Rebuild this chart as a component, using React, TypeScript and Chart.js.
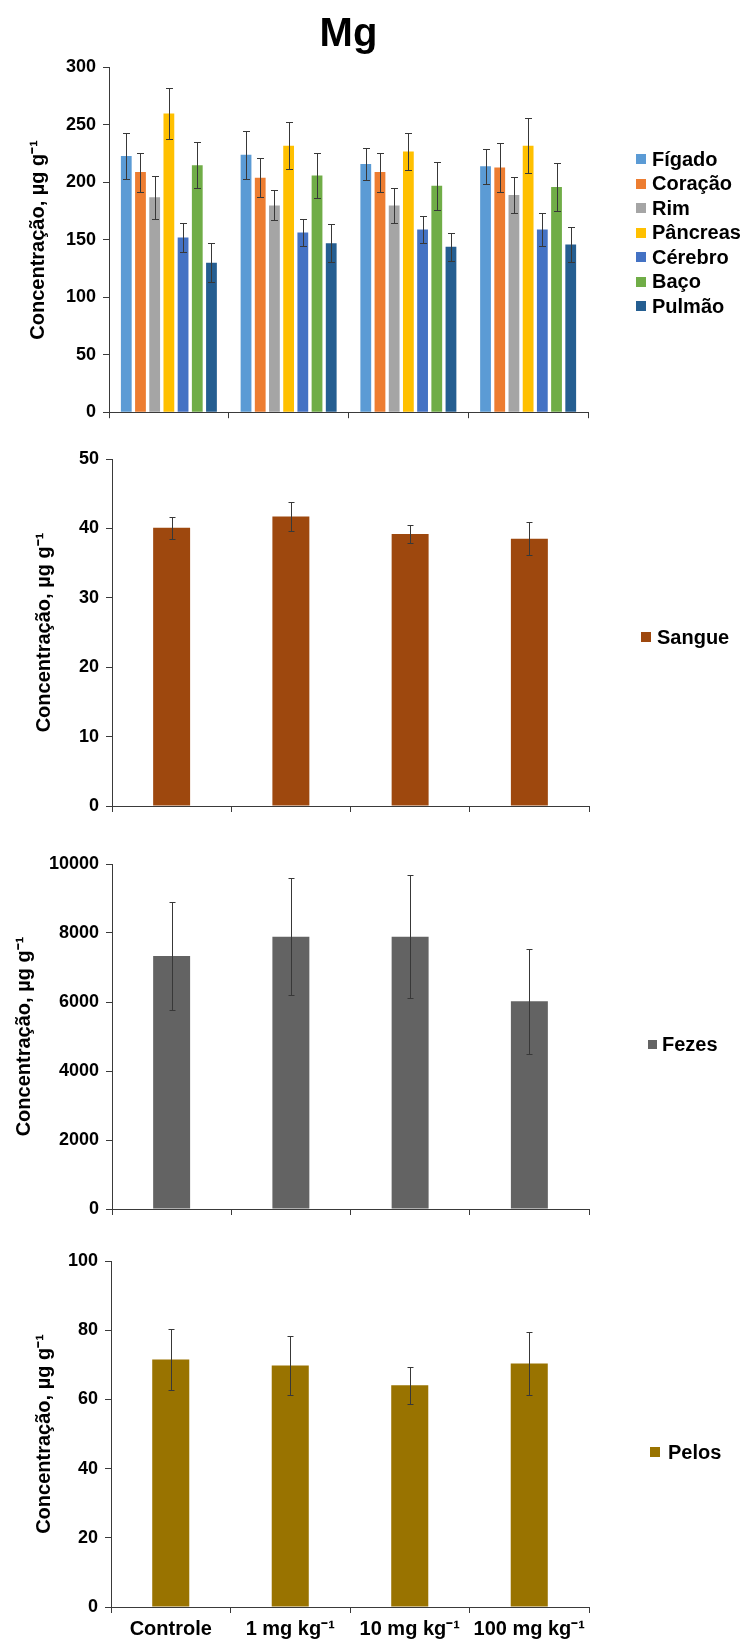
import React, { useEffect, useRef } from "react";
import { Chart, registerables } from "chart.js";

Chart.register(...registerables);

// ---------------- DATA ----------------
const groups = ["Controle", "1 mg kg\u207B\u00B9", "10 mg kg\u207B\u00B9", "100 mg kg\u207B\u00B9"];

const organNames = ["Fígado", "Coração", "Rim", "Pâncreas", "Cérebro", "Baço", "Pulmão"];
const figado = [223, 224, 216, 214];
const figadoErr = [20, 21, 14, 15];
const coracao = [209, 204, 209, 213];
const coracaoErr = [17, 17, 17, 21];
const rim = [187, 180, 180, 189];
const rimErr = [18.5, 13, 15, 16];
const pancreas = [260, 232, 227, 232];
const pancreasErr = [22, 20.5, 16, 24];
const cerebro = [152, 156.5, 159, 159];
const cerebroErr = [12.5, 12, 12, 14];
const baco = [215, 206, 197, 196];
const bacoErr = [20, 20, 21, 20.5];
const pulmao = [130, 147, 144, 146];
const pulmaoErr = [17, 16.5, 12, 15.5];

const sangue = [40.1, 41.7, 39.2, 38.5];
const sangueErr = [1.6, 2.1, 1.3, 2.4];
const fezes = [7330, 7890, 7890, 6020];
const fezesErr = [1560, 1700, 1780, 1520];
const pelos = [71.5, 69.8, 64.1, 70.4];
const pelosErr = [8.8, 8.6, 5.3, 9.1];

const yTitle = "Concentração, µg g\u207B\u00B9";

// ---------------- STYLE ----------------
const FONT = "'Liberation Sans', Arial, Helvetica, sans-serif";
const AXIS = "#3a3a3a";
const ERR = "#383838";
const W = 743;

const organColors = ["#5B9BD5", "#ED7D31", "#A5A5A5", "#FFC000", "#4472C4", "#70AD47", "#255E91"];

// ---------------- PLUGINS ----------------
const errorBarsPlugin = {
  id: "errorBars",
  afterDatasetsDraw(chart: any, _args: any, opts: any) {
    const ctx = chart.ctx;
    const yScale = chart.scales.y;
    const cap = (opts && opts.cap) || 6;
    chart.data.datasets.forEach((ds: any, di: number) => {
      const errs = ds.errors;
      if (!errs) return;
      const meta = chart.getDatasetMeta(di);
      meta.data.forEach((bar: any, i: number) => {
        const v = ds.data[i];
        const e = errs[i];
        const x = Math.round(bar.x) + 0.5;
        const yT = Math.round(yScale.getPixelForValue(v + e)) + 0.5;
        const yB = Math.round(yScale.getPixelForValue(v - e)) + 0.5;
        ctx.save();
        ctx.strokeStyle = ERR;
        ctx.lineWidth = 1;
        ctx.beginPath();
        ctx.moveTo(x, yT);
        ctx.lineTo(x, yB);
        ctx.moveTo(x - cap / 2, yT);
        ctx.lineTo(x + cap / 2, yT);
        ctx.moveTo(x - cap / 2, yB);
        ctx.lineTo(x + cap / 2, yB);
        ctx.stroke();
        ctx.restore();
      });
    });
  },
};

const sideLegendPlugin = {
  id: "sideLegend",
  afterDraw(chart: any, _args: any, opts: any) {
    if (!opts || !opts.show) return;
    const ctx = chart.ctx;
    ctx.save();
    ctx.font = `bold ${opts.fontSize}px ${FONT}`;
    ctx.textBaseline = "middle";
    ctx.textAlign = "left";
    chart.data.datasets.forEach((ds: any, i: number) => {
      const y = opts.y + i * opts.spacing;
      ctx.fillStyle = ds.backgroundColor;
      ctx.fillRect(opts.x, Math.round(y - opts.box / 2), opts.box, opts.box);
      ctx.fillStyle = "#000";
      ctx.fillText(ds.label, opts.x + opts.box + opts.gap, y + 1);
    });
    ctx.restore();
  },
};

Chart.register(errorBarsPlugin as any, sideLegendPlugin as any);

// ---------------- PANELS ----------------
type PanelCfg = {
  key: string;
  top: number;
  height: number;
  chartLeft: number;
  chartRight: number;
  chartTop: number;
  chartBottom: number;
  max: number;
  step: number;
  datasets: any[];
  catPct: number;
  barPct: number;
  showX: boolean;
  title?: string;
  yTitlePad: number;
  legend: { x: number; y: number; spacing: number; box: number; gap: number; fontSize: number };
  cap: number;
};

const panels: PanelCfg[] = [
  {
    key: "organs",
    top: 0,
    height: 430,
    chartLeft: 109,
    chartRight: 588,
    chartTop: 67.5,
    chartBottom: 412.5,
    max: 300,
    step: 50,
    datasets: [
      { label: organNames[0], data: figado, errors: figadoErr, backgroundColor: organColors[0] },
      { label: organNames[1], data: coracao, errors: coracaoErr, backgroundColor: organColors[1] },
      { label: organNames[2], data: rim, errors: rimErr, backgroundColor: organColors[2] },
      { label: organNames[3], data: pancreas, errors: pancreasErr, backgroundColor: organColors[3] },
      { label: organNames[4], data: cerebro, errors: cerebroErr, backgroundColor: organColors[4] },
      { label: organNames[5], data: baco, errors: bacoErr, backgroundColor: organColors[5] },
      { label: organNames[6], data: pulmao, errors: pulmaoErr, backgroundColor: organColors[6] },
    ],
    catPct: 0.83,
    barPct: 0.76,
    showX: false,
    title: "Mg",
    yTitlePad: 26,
    legend: { x: 636, y: 159, spacing: 24.5, box: 10, gap: 6, fontSize: 20 },
    cap: 7,
  },
  {
    key: "sangue",
    top: 430,
    height: 400,
    chartLeft: 112,
    chartRight: 589,
    chartTop: 29,
    chartBottom: 376,
    max: 50,
    step: 10,
    datasets: [{ label: "Sangue", data: sangue, errors: sangueErr, backgroundColor: "#9E480E" }],
    catPct: 1,
    barPct: 0.31,
    showX: false,
    yTitlePad: 32,
    legend: { x: 641, y: 207, spacing: 22, box: 10, gap: 6, fontSize: 20 },
    cap: 6,
  },
  {
    key: "fezes",
    top: 830,
    height: 400,
    chartLeft: 112,
    chartRight: 589,
    chartTop: 34,
    chartBottom: 379,
    max: 10000,
    step: 2000,
    datasets: [{ label: "Fezes", data: fezes, errors: fezesErr, backgroundColor: "#636363" }],
    catPct: 1,
    barPct: 0.31,
    showX: false,
    yTitlePad: 12,
    legend: { x: 648, y: 214, spacing: 22, box: 9, gap: 5, fontSize: 20 },
    cap: 6,
  },
  {
    key: "pelos",
    top: 1230,
    height: 412,
    chartLeft: 111,
    chartRight: 589,
    chartTop: 31,
    chartBottom: 377,
    max: 100,
    step: 20,
    datasets: [{ label: "Pelos", data: pelos, errors: pelosErr, backgroundColor: "#997300" }],
    catPct: 1,
    barPct: 0.31,
    showX: true,
    yTitlePad: 32,
    legend: { x: 650, y: 222, spacing: 22, box: 10, gap: 8, fontSize: 20 },
    cap: 6,
  },
];

function buildConfig(p: PanelCfg): any {
  const xH = p.height - p.chartBottom;
  const titleSize = 40;
  const titleTop = 10.5;
  return {
    type: "bar",
    data: {
      labels: groups,
      datasets: p.datasets.map((d) => ({
        ...d,
        borderWidth: 0,
        categoryPercentage: p.catPct,
        barPercentage: p.barPct,
      })),
    },
    options: {
      responsive: false,
      maintainAspectRatio: false,
      animation: false,
      devicePixelRatio: 1,
      layout: {
        padding: { left: 0, right: W - p.chartRight, top: p.title ? 0 : p.chartTop, bottom: 0 },
      },
      plugins: {
        legend: { display: false },
        tooltip: { enabled: false },
        title: p.title
          ? {
              display: true,
              text: p.title,
              fullSize: false,
              color: "#000",
              font: { family: FONT, size: titleSize, weight: "bold", lineHeight: 1.2 },
              padding: { top: titleTop, bottom: p.chartTop - titleTop - titleSize * 1.2 },
            }
          : { display: false },
        errorBars: { cap: p.cap },
        sideLegend: { show: true, ...p.legend },
      },
      scales: {
        x: {
          type: "category",
          offset: true,
          grid: {
            display: true,
            offset: true,
            drawOnChartArea: false,
            drawTicks: true,
            tickLength: 6,
            color: AXIS,
            lineWidth: 1,
          },
          border: { display: true, color: AXIS, width: 1 },
          ticks: {
            display: p.showX,
            color: "#000",
            font: { family: FONT, size: 20, weight: "bold" },
            padding: 4,
            maxRotation: 0,
            minRotation: 0,
            autoSkip: false,
          },
          afterFit: (s: any) => {
            s.height = xH;
          },
        },
        y: {
          type: "linear",
          min: 0,
          max: p.max,
          grid: {
            display: true,
            drawOnChartArea: false,
            drawTicks: true,
            tickLength: 6,
            color: AXIS,
            lineWidth: 1,
          },
          border: { display: true, color: AXIS, width: 1 },
          ticks: {
            stepSize: p.step,
            color: "#000",
            font: { family: FONT, size: 18, weight: "bold" },
            padding: 7,
            callback: (v: any) => String(v),
          },
          title: {
            display: true,
            text: yTitle,
            color: "#000",
            font: { family: FONT, size: 20, weight: "bold", lineHeight: 1.2 },
            padding: { top: p.yTitlePad, bottom: 0 },
          },
          afterFit: (s: any) => {
            s.width = p.chartLeft;
          },
        },
      },
    },
  };
}

function Panel({ cfg }: { cfg: PanelCfg }) {
  const ref = useRef<HTMLCanvasElement | null>(null);
  useEffect(() => {
    if (!ref.current) return;
    const chart = new Chart(ref.current, buildConfig(cfg));
    return () => chart.destroy();
  }, [cfg]);
  return (
    <canvas
      ref={ref}
      width={W}
      height={cfg.height}
      style={{ position: "absolute", left: 0, top: cfg.top, width: W, height: cfg.height, display: "block" }}
    />
  );
}

export default function App() {
  return (
    <div style={{ position: "absolute", left: 0, top: 0, width: W, height: 1642, background: "#fff", overflow: "hidden" }}>
      {panels.map((p) => (
        <Panel key={p.key} cfg={p} />
      ))}
    </div>
  );
}
